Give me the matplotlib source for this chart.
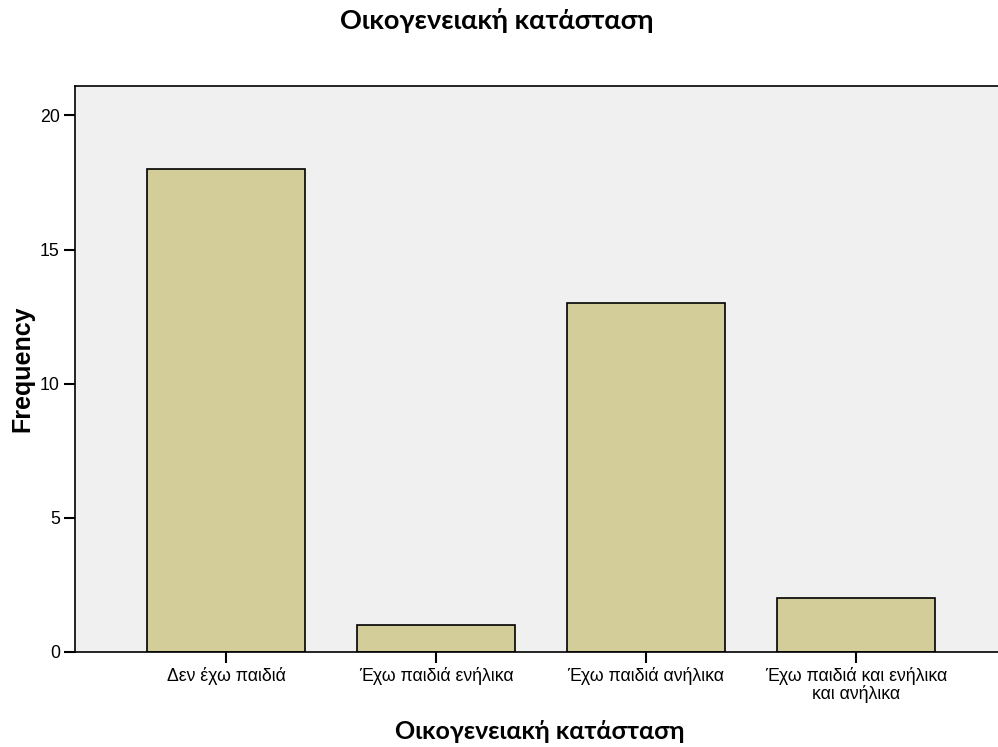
import matplotlib.pyplot as plt

categories = ['Δεν έχω παιδιά', 'Έχω παιδιά ενήλικα', 'Έχω παιδιά ανήλικα',
              'Έχω παιδιά και ενήλικα\nκαι ανήλικα']
counts = [18, 1, 13, 2]

fig = plt.figure(figsize=(9.98, 7.47), dpi=100)
ax = fig.add_axes([0.0752, 0.1272, 0.9248, 0.7577])
ax.set_facecolor('#f0f0f0')

x = list(range(len(categories)))
ax.bar(x, counts, width=0.752, color='#d3ce99', edgecolor='black', linewidth=1.2, zorder=2)

ax.set_xlim(-0.719, 3.676)
ax.set_ylim(0, 21.1)
ax.set_yticks([0, 5, 10, 15, 20])
ax.set_xticks(x)
ax.set_xticklabels(categories, fontsize=12.8, family='Liberation Sans', linespacing=0.95)
for lab in ax.get_yticklabels():
    lab.set_family('Liberation Sans')
    lab.set_fontsize(12.8)
ax.tick_params(axis='both', direction='out', length=8, width=1.5, pad=3)
ax.spines['right'].set_visible(False)
for s in ['left', 'bottom', 'top']:
    ax.spines[s].set_linewidth(1.2)

ax.set_ylabel('Frequency', fontsize=18, fontweight='bold', family='Liberation Sans', labelpad=4)
# x-axis title placed directly so it sits where the reference has it
fig.text(0.541, 0.021, 'Οικογενειακή κατάσταση', fontsize=18, fontweight='bold',
         family='Lato', ha='center', va='center')
fig.text(0.498, 0.973, 'Οικογενειακή κατάσταση', fontsize=19.5, fontweight='bold',
         family='Lato', ha='center', va='center')

fig.savefig('out.png', dpi=100)
